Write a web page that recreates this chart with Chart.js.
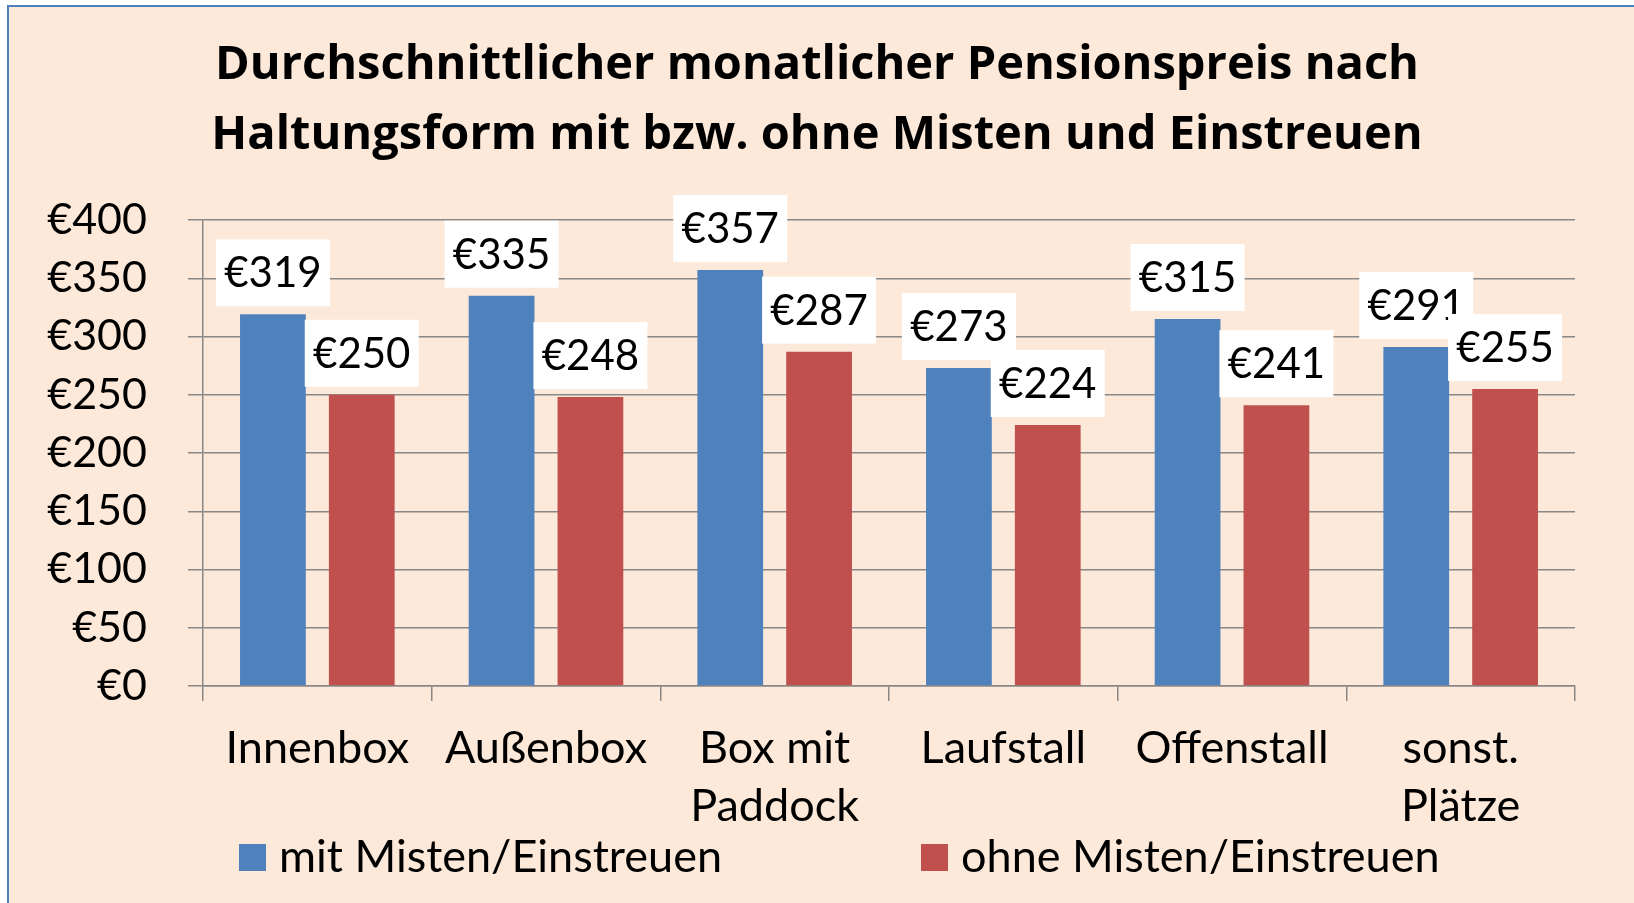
<!DOCTYPE html>
<html>
<head>
<meta charset="utf-8">
<script src="https://cdn.jsdelivr.net/npm/chart.js@4"></script>
<style>
    html, body { margin: 0; padding: 0; background: #ffffff; }
    canvas { display: block; }
</style>
</head>
<body>
<canvas id="priceChart" width="1634" height="903"></canvas>
<script>
// Data
const categories = ['Innenbox', 'Außenbox', ['Box mit', 'Paddock'], 'Laufstall', 'Offenstall', ['sonst.', 'Plätze']];
const withMucking = [319, 335, 357, 273, 315, 291];
const withoutMucking = [250, 248, 287, 224, 241, 255];
const seriesNames = ['mit Misten/Einstreuen', 'ohne Misten/Einstreuen'];
const titleLines = ['Durchschnittlicher monatlicher Pensionspreis nach', 'Haltungsform mit bzw. ohne Misten und Einstreuen'];

const blue = '#4F81BD';
const red = '#C0504D';
const gridGray = '#888888';
const fontName = 'Lato';

Chart.defaults.font.family = fontName;
Chart.defaults.color = '#000000';

// Peach panel with blue frame behind everything
const panelBackground = {
    id: 'panelBackground',
    afterLayout(chart) {
        // let the y tick labels use the space left of the axis box (no clipping)
        chart.scales.y.left = 10;
    },
    beforeDraw(chart) {
        const c = chart.ctx;
        c.save();
        c.fillStyle = '#ffffff';
        c.fillRect(0, 0, chart.width, chart.height);
        c.fillStyle = '#FDE9D9';
        c.fillRect(8, 6, chart.width - 8, chart.height - 6);
        c.strokeStyle = blue;
        c.lineWidth = 2;
        c.beginPath();
        c.moveTo(8, chart.height);
        c.lineTo(8, 6);
        c.lineTo(chart.width, 6);
        c.stroke();
        c.restore();
    }
};

// White boxed value labels above each bar
const valueBoxes = {
    id: 'valueBoxes',
    afterDatasetsDraw(chart) {
        const c = chart.ctx;
        c.save();
        c.font = '42px ' + fontName;
        c.textAlign = 'center';
        c.textBaseline = 'middle';
        chart.data.datasets.forEach((ds, i) => {
            chart.getDatasetMeta(i).data.forEach((bar, j) => {
                const w = 114, h = 67;
                const bottom = bar.y - 8;
                c.fillStyle = '#ffffff';
                c.fillRect(bar.x - w / 2, bottom - h, w, h);
                c.fillStyle = '#000000';
                c.fillText('€' + ds.data[j], bar.x, bottom - h / 2 + 1);
            });
        });
        c.restore();
    }
};

// Legend spread over two columns like the original
const wideLegend = {
    id: 'wideLegend',
    afterDraw(chart) {
        const c = chart.ctx;
        const area = chart.chartArea;
        const colWidth = (area.right - area.left) / 2;
        const y = 857;
        c.save();
        c.font = '45px ' + fontName;
        c.textAlign = 'left';
        c.textBaseline = 'middle';
        chart.data.datasets.forEach((ds, i) => {
            const x = area.left + 36 + i * (colWidth - 4);
            c.fillStyle = ds.backgroundColor;
            c.fillRect(x, y - 13, 27, 27);
            c.fillStyle = '#000000';
            c.fillText(ds.label, x + 40, y);
        });
        c.restore();
    }
};

const ctx = document.getElementById('priceChart').getContext('2d');

const priceChart = new Chart(ctx, {
    type: 'bar',
    data: {
        labels: categories,
        datasets: [{
            label: seriesNames[0],
            data: withMucking,
            backgroundColor: blue,
            categoryPercentage: 0.777,
            barPercentage: 0.74
        }, {
            label: seriesNames[1],
            data: withoutMucking,
            backgroundColor: red,
            categoryPercentage: 0.777,
            barPercentage: 0.74
        }]
    },
    options: {
        responsive: false,
        animation: false,
        layout: {
            padding: { left: 59, right: 59, top: 0, bottom: 77 }
        },
        plugins: {
            legend: { display: false },
            tooltip: { enabled: false },
            title: {
                display: true,
                text: titleLines,
                color: '#000000',
                font: { family: 'Open Sans', size: 47, weight: 'bold', lineHeight: 1.5 },
                padding: { top: 30, bottom: 49 }
            }
        },
        scales: {
            x: {
                grid: {
                    display: true,
                    drawOnChartArea: false,
                    drawTicks: true,
                    tickLength: 15,
                    color: gridGray,
                    lineWidth: 1.5,
                    offset: true
                },
                border: { display: true, color: gridGray, width: 1.5 },
                ticks: {
                    color: '#000000',
                    font: { size: 45, lineHeight: 1.29 },
                    padding: 18,
                    maxRotation: 0,
                    autoSkip: false
                },
                afterFit(scale) { scale.height = 140; }
            },
            y: {
                min: 0,
                max: 400,
                grid: {
                    color: gridGray,
                    lineWidth: 1.5,
                    tickLength: 15
                },
                border: { display: true, color: gridGray, width: 1.5 },
                ticks: {
                    stepSize: 50,
                    color: '#000000',
                    font: { size: 43 },
                    padding: 41,
                    callback: (v) => '€' + v
                },
                afterFit(scale) { scale.width = 144; }
            }
        }
    },
    plugins: [panelBackground, valueBoxes, wideLegend]
});
</script>
</body>
</html>
